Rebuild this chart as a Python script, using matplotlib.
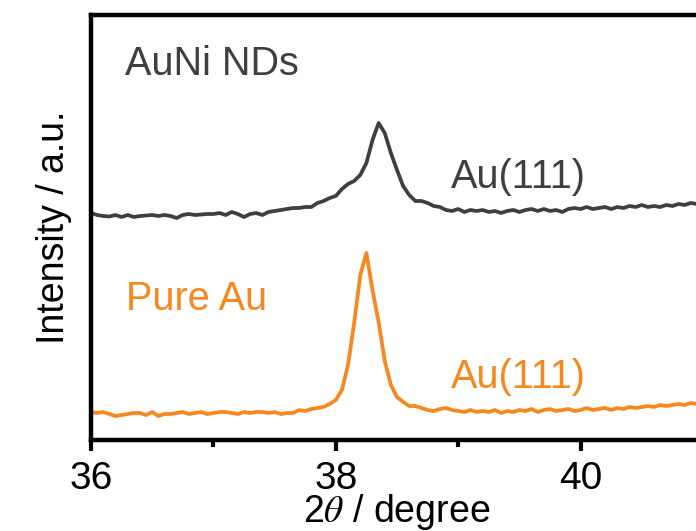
import numpy as np
import matplotlib
matplotlib.use("Agg")
import matplotlib.pyplot as plt

plt.rcParams['font.family'] = ['Liberation Sans', 'DejaVu Sans']
plt.rcParams['mathtext.fontset'] = 'stix'

# 2-theta sampling (degrees)
two_theta = np.round(np.arange(36.0, 41.0001, 0.05), 2)

# AuNi NDs (offset upward), intensity in a.u.
auni = [227, 225, 224, 223.5, 225, 223, 225, 223, 224, 224.5,
        225, 224, 225, 224, 222, 225, 226, 225, 225.5, 226,
        226, 227, 225, 228, 226, 223, 226, 227, 225, 228,
        229, 230, 231, 232, 232, 233, 233, 237, 239, 242,
        244, 251, 256, 259, 265, 277, 300, 317, 307, 287,
        270, 254, 245, 239, 239, 237, 234, 233, 230, 229,
        231, 228, 230, 229, 230, 228, 229, 227, 229, 230,
        228, 230, 231, 229, 231, 229, 230, 228, 231, 232,
        231, 233, 231, 232, 233, 231, 233, 232, 234, 233,
        235, 233, 234, 233, 235, 234, 236, 235, 237, 236,
        236]

# Pure Au
pure_au = [28, 27, 28, 26, 24, 25, 26, 27, 27, 25,
           28, 24, 26, 26, 27, 28, 26, 27, 28, 26,
           27, 28, 28, 27, 26, 28, 27, 28, 28, 27,
           28, 26, 27, 27, 30, 29, 31, 32, 33, 36,
           40, 50, 75, 117, 165, 187, 150, 118, 79, 55,
           43, 38, 34, 34, 32, 30, 29, 31, 32, 30,
           29, 28, 30, 28, 29, 28, 30, 27, 29, 28,
           30, 29, 31, 28, 30, 31, 29, 30, 31, 29,
           30, 32, 30, 31, 32, 30, 32, 31, 33, 32,
           33, 34, 33, 35, 34, 35, 36, 35, 37, 36,
           37]

xticks_major = [36, 38, 40]
xticks_minor = [37, 39]

gray = '#3f3f3f'
orange = '#f7871f'

fig = plt.figure(figsize=(6.96, 5.31), dpi=100)
ax = fig.add_axes([91/696, 91/531, (703-91)/696, 425/531])

ax.plot(two_theta, auni, color=gray, lw=2.7, solid_joinstyle='round')
ax.plot(two_theta, pure_au, color=orange, lw=2.7, solid_joinstyle='round')

ax.set_xlim(36, 41)
ax.set_ylim(0, 425)

for s in ax.spines.values():
    s.set_linewidth(3.2)
ax.set_yticks([])
ax.set_xticks(xticks_major)
ax.set_xticks(xticks_minor, minor=True)
ax.tick_params(axis='x', which='major', length=8, width=3, labelsize=28, pad=7, direction='out')
ax.tick_params(axis='x', which='minor', length=5, width=3, direction='out')

ax.set_xlabel(r'2$\theta$ / degree', fontsize=27, labelpad=-3.5)
ax.set_ylabel('Intensity / a.u.', fontsize=27, labelpad=14)

ax.text(36.28, 365, 'AuNi NDs', color=gray, fontsize=28.5, va='baseline')
ax.text(38.94, 252, 'Au(111)', color=gray, fontsize=28.5, va='baseline')
ax.text(36.29, 130, 'Pure Au', color=orange, fontsize=28.5, va='baseline')
ax.text(38.94, 52, 'Au(111)', color=orange, fontsize=28.5, va='baseline')

fig.savefig('out.png', dpi=100)
